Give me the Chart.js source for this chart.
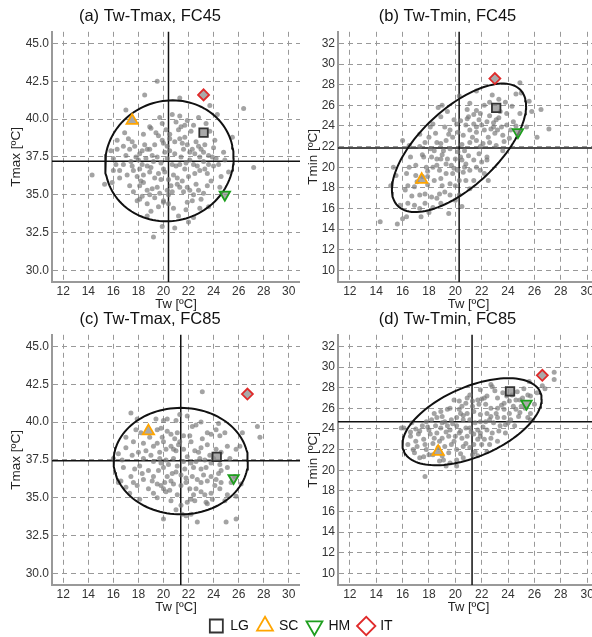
<!DOCTYPE html>
<html>
<head>
<meta charset="utf-8">
<script src="https://cdn.jsdelivr.net/npm/chart.js@4.4.0/dist/chart.umd.min.js"></script>
<style>
  body { margin: 0; background: #fff; overflow: hidden; }
  #wrap { position: relative; width: 592px; height: 637px; overflow: hidden; background: #fff; }
  canvas { position: absolute; }
</style>
</head>
<body>
<div id="wrap">
  <canvas id="chart_a" width="300" height="312" style="left:0px;top:0px"></canvas>
  <canvas id="chart_b" width="303" height="312" style="left:296px;top:0px"></canvas>
  <canvas id="chart_c" width="300" height="312" style="left:0px;top:303px"></canvas>
  <canvas id="chart_d" width="303" height="312" style="left:296px;top:303px"></canvas>
  <canvas id="chart_legend" width="584" height="30" style="left:9px;top:610px"></canvas>
</div>
<script>
// tick labels and axis limits
var twTicks = [12, 14, 16, 18, 20, 22, 24, 26, 28, 30]
var tmaxTicks = [30, 32.5, 35, 37.5, 40, 42.5, 45]
var tminTicks = [10, 12, 14, 16, 18, 20, 22, 24, 26, 28, 30, 32]
var twRange = [11.1, 30.9]
var tmaxRange = [29.23, 45.77]
var tminRange = [8.87, 33.13]

// gray points [Tw, T]
var pointsA = [[19.5,42.5],[18.5,41.6],[21.3,41.4],[23.7,40.9],[26.4,40.7],[17.0,40.6],[19.7,40.1],[18.9,39.5],[19.9,39.7],[19.0,39.4],
  [21.3,40.2],[21.4,39.5],[21.2,39.3],[21.9,39.9],[22.8,40.1],[22.4,39.6],[23.4,39.7],[24.3,40.3],[24.1,38.6],[25.5,38.8],
  [24.8,37.8],[23.6,37.6],[23.2,37.8],[23.9,37.5],[16.3,38.6],[17.2,38.7],[17.5,38.5],[16.8,38.2],[16.3,38.0],[17.7,38.2],
  [18.1,37.7],[18.3,37.9],[18.7,38.0],[18.9,38.0],[19.1,37.6],[19.5,37.5],[19.9,38.6],[20.0,38.4],[20.3,38.2],[20.5,37.9],
  [20.1,37.8],[20.5,39.0],[20.5,38.7],[20.9,38.5],[21.3,38.7],[21.7,38.8],[21.9,38.3],[21.6,38.0],[22.1,37.8],[22.5,37.7],
  [22.8,38.2],[22.9,37.5],[14.3,36.3],[15.3,35.7],[27.2,36.8],[16.0,37.4],[16.8,37.0],[17.5,36.9],[17.6,36.6],[18.0,37.3],
  [18.3,37.0],[18.1,36.7],[18.4,36.3],[18.7,36.9],[18.9,36.5],[19.2,37.2],[19.3,36.1],[20.0,36.7],[20.1,36.5],[20.7,37.0],
  [20.8,36.3],[21.1,36.1],[21.3,37.0],[21.7,36.7],[22.1,37.3],[22.4,37.0],[22.5,36.4],[22.9,36.6],[23.2,37.2],[23.3,36.7],
  [23.5,36.4],[24.0,36.9],[24.4,37.0],[16.5,36.1],[15.9,35.8],[17.3,35.6],[17.6,35.2],[18.1,35.6],[18.4,35.8],[18.7,35.3],
  [18.9,35.0],[19.5,35.5],[19.7,35.1],[20.0,34.6],[20.4,35.0],[20.7,35.2],[21.1,35.7],[21.3,35.5],[21.6,35.2],[21.9,35.5],
  [22.1,35.3],[22.4,35.0],[22.8,35.3],[23.2,35.1],[18.1,34.7],[18.7,34.4],[19.6,34.2],[20.0,34.5],[20.4,34.4],[21.9,34.5],
  [22.3,34.6],[22.4,33.5],[22.9,34.1],[19.9,32.9],[20.9,32.8],[19.2,32.2],[18.7,33.6],[19.6,38.9],[20.2,39.3],[21.0,39.8],
  [22.6,38.5],[23.0,38.0],[17.9,36.2],[18.6,37.4],[19.8,36.0],[21.4,37.5],[22.0,36.2],[23.8,35.9],[17.0,37.6],[16.5,36.6],
  [20.6,35.6],[21.8,34.0],[23.0,34.7],[19.3,34.8],[24.6,36.2],[15.8,37.9],[16.9,39.1],
  [17.3,38.0],[17.8,37.5],[18.5,38.3],[19.3,38.3],[19.8,37.1],[20.3,37.4],[20.9,37.7],[21.5,38.4],[22.3,38.0],[23.3,38.3],
  [23.7,39.2],[22.2,39.2],[21.7,39.6],[20.7,40.3],[19.4,39.1],[18.4,39.0],[17.4,37.2],[16.2,37.0],[17.1,36.3],[18.2,35.9],
  [19.0,36.8],[19.6,36.4],[20.4,36.0],[21.0,36.9],[21.8,37.1],[22.7,36.9],[23.6,37.0],[24.2,37.4],[24.9,37.3],[25.2,36.5],
  [24.5,35.5],[23.5,35.6],[22.6,35.7],[21.5,35.9],[20.3,35.3],[19.1,35.4],[18.3,34.9],[17.9,34.6],[19.0,33.9],[20.8,34.1],
  [21.2,33.6],[22.0,33.2],[23.6,34.2],[24.0,38.1],[16.0,36.6]]

var pointsB = [[24.9,28.2],[24.6,27.1],[22.8,27.0],[23.8,26.3],[21.1,26.2],[22.2,26.0],[21.6,25.5],[21.9,25.2],[21.4,25.1],[21.0,24.9],
  [22.6,25.0],[23.4,25.4],[23.9,25.2],[23.1,24.6],[23.5,23.9],[23.9,24.1],[22.4,24.4],[22.0,24.1],[21.4,24.2],[20.8,24.1],
  [21.1,23.6],[21.6,23.4],[22.2,23.6],[22.7,23.7],[23.0,23.3],[23.6,23.1],[24.1,22.8],[26.2,22.9],[27.1,23.7],[25.4,23.9],
  [18.7,25.8],[18.9,24.9],[18.3,24.2],[18.1,23.9],[19.2,23.9],[19.6,23.6],[20.1,24.2],[20.2,23.4],[20.6,23.1],[19.8,22.9],
  [19.3,22.6],[18.9,22.3],[18.6,22.4],[17.7,22.4],[17.3,22.0],[18.1,21.8],[18.4,21.6],[19.1,21.6],[19.6,21.8],[20.2,21.5],
  [20.7,21.6],[21.1,22.4],[21.6,22.6],[22.1,22.3],[22.6,22.4],[23.1,22.1],[23.6,21.6],[16.0,22.6],[16.5,22.1],[17.5,21.2],
  [18.2,21.0],[18.6,20.8],[18.9,20.8],[19.3,20.3],[19.7,20.2],[20.0,20.8],[20.5,20.7],[20.8,20.3],[21.4,20.7],[21.6,20.0],
  [22.0,20.5],[22.4,21.0],[21.1,19.7],[20.6,19.5],[20.2,19.7],[19.8,19.4],[19.3,19.4],[18.8,19.7],[18.3,20.0],[17.8,20.0],
  [17.0,20.2],[16.5,20.0],[15.3,20.0],[15.5,19.2],[16.3,19.4],[17.0,19.2],[17.5,19.1],[17.9,19.1],[18.4,18.7],[18.9,18.9],
  [19.6,18.4],[20.0,18.2],[20.3,18.7],[20.8,18.7],[21.4,18.7],[22.2,19.4],[22.5,18.7],[16.2,17.8],[16.4,18.2],[16.9,18.1],
  [17.3,17.3],[17.7,17.4],[18.2,17.1],[18.6,17.0],[18.8,17.4],[19.2,17.6],[19.6,17.3],[20.0,16.8],[20.3,17.3],[16.4,16.5],
  [16.9,16.3],[17.3,16.0],[17.7,16.5],[18.3,16.1],[18.9,16.5],[19.5,15.5],[14.3,14.7],[15.6,14.5],[16.0,15.0],[16.3,15.2],
  [17.4,15.2],[25.0,27.2],[19.0,21.2],[20.5,22.2],[21.8,21.3],[22.9,23.9],[19.9,24.6],[18.5,23.3],[17.6,21.0],[20.9,24.7],
  [23.3,24.8],[21.3,22.9],[22.4,20.7],[24.4,24.4],[23.7,22.5],[20.9,25.6],[19.4,25.4],
  [21.8,24.6],[22.6,26.3],[23.3,26.6],[24.3,25.9],[24.9,25.2],[24.6,24.0],[23.2,23.6],[22.5,22.9],[21.9,22.0],[21.0,21.1],
  [20.4,21.0],[19.4,20.8],[18.6,20.2],[17.9,19.6],[17.1,18.6],[16.7,17.2],[17.9,18.3],[19.0,18.2],[19.9,19.9],[20.7,20.0],
  [21.9,19.7],[21.1,17.9],[20.5,16.2],[18.0,15.6],[15.8,16.3],[15.1,18.2],[16.6,21.0],[17.3,23.2],[18.0,22.9],[19.5,23.2],
  [20.4,24.5],[21.6,23.9],[22.9,24.3],[24.2,23.6],[25.6,26.4],[25.8,25.4],[26.5,25.6],[19.0,26.0],[20.3,26.9],[21.6,27.4]]

var pointsC = [[23.1,42.0],[17.4,40.6],[17.9,40.2],[19.4,40.2],[20.0,40.1],[20.3,40.2],[21.0,40.1],[21.9,40.4],[23.0,40.0],[22.3,39.7],
  [17.8,39.5],[18.2,39.3],[19.5,39.5],[19.8,39.6],[20.3,39.4],[20.6,39.2],[21.1,39.3],[21.6,39.1],[22.1,39.1],[23.5,39.3],
  [23.8,39.2],[24.2,39.5],[24.5,39.1],[24.9,39.3],[26.1,38.4],[27.7,39.0],[27.5,39.7],[17.0,38.3],[17.6,38.7],[18.4,38.6],
  [19.2,38.4],[19.5,38.6],[20.0,38.7],[20.2,38.2],[20.6,38.4],[21.0,38.1],[21.2,38.5],[21.6,38.2],[22.2,38.7],[22.5,38.1],
  [23.0,38.3],[23.1,38.9],[23.5,38.5],[23.7,37.8],[24.2,38.2],[24.6,38.0],[25.1,38.4],[25.8,38.2],[16.0,37.6],[16.7,37.5],
  [17.5,37.8],[18.4,37.6],[19.0,37.8],[19.2,37.4],[19.8,37.3],[20.2,37.5],[20.4,37.2],[20.8,37.6],[21.1,37.1],[21.6,37.4],
  [22.2,37.3],[22.6,37.4],[23.0,36.9],[23.4,37.0],[23.8,37.3],[24.5,37.2],[24.6,36.8],[25.1,37.0],[17.4,36.4],[17.6,36.0],
  [18.3,36.6],[18.8,36.8],[19.2,36.4],[19.6,36.8],[20.0,37.0],[20.3,36.4],[20.6,36.1],[21.0,36.7],[21.4,36.5],[21.8,36.3],
  [22.3,36.4],[22.7,36.2],[23.0,36.0],[23.5,36.1],[23.8,36.4],[24.2,36.2],[24.6,36.0],[25.7,36.4],[16.4,36.0],[17.0,35.7],
  [17.9,35.8],[18.8,35.6],[19.5,35.9],[19.8,35.8],[20.2,35.4],[20.8,35.9],[21.4,35.8],[21.8,36.0],[22.1,35.6],[22.6,35.6],
  [23.0,35.4],[23.8,35.3],[24.5,35.6],[19.5,35.0],[20.6,34.8],[21.4,34.5],[21.9,34.7],[22.5,34.8],[23.5,34.6],[23.9,34.9],
  [25.1,35.2],[25.8,35.1],[21.5,33.9],[21.8,33.8],[22.7,33.4],[19.2,35.3],[25.8,33.6],[23.4,34.7],[18.1,37.1],[19.7,38.0],
  [20.9,38.9],[21.9,37.7],[22.9,37.6],[20.5,35.5],[22.4,35.2],[18.6,38.1],[24.0,37.6],[20.1,36.0],[20.0,33.6],[16.6,36.1],
  [17.0,39.0],[18.0,38.0],[18.9,39.0],[19.9,39.0],[20.8,38.2],[21.3,38.7],[22.8,38.0],[23.3,37.5],[24.4,36.6],[25.3,37.6],
  [25.4,36.0],[24.9,34.8],[23.3,35.2],[22.2,34.9],[21.1,35.2],[20.0,35.6],[19.1,36.1],[18.4,36.2],[17.7,36.9],[16.8,37.0],
  [16.4,37.9],[17.3,35.3],[18.1,34.9],[19.7,37.6],[20.7,36.6],[21.7,36.9],[22.4,37.0],[23.2,36.5],[24.1,35.8],[21.3,40.5],
  [22.6,39.8],[24.4,39.9],[26.3,39.3],[26.2,35.9],[25.0,33.4],[21.0,34.2],[22.2,33.9]]

var pointsD = [[27.5,29.5],[27.5,28.8],[26.6,28.2],[25.6,28.6],[25.2,27.9],[22.7,28.3],[22.8,28.1],[21.9,27.8],[23.6,27.5],[23.9,27.2],
  [24.3,27.3],[24.7,27.6],[25.5,27.3],[25.7,27.2],[26.2,27.5],[21.1,27.3],[20.9,27.0],[21.7,26.8],[22.2,27.0],[22.4,27.2],
  [23.2,27.0],[23.7,26.5],[24.1,26.7],[24.6,26.8],[25.1,27.0],[19.9,26.8],[20.3,26.7],[20.5,26.2],[20.8,26.5],[21.3,26.2],
  [21.8,26.4],[22.3,26.4],[22.7,26.0],[23.2,26.0],[23.7,25.9],[24.1,25.5],[24.6,25.9],[25.0,26.2],[25.7,25.5],[24.8,25.2],
  [18.9,25.7],[19.4,25.9],[19.6,26.0],[20.3,25.9],[20.4,25.5],[20.9,25.5],[21.4,25.7],[21.9,25.4],[22.4,25.5],[22.7,25.2],
  [23.2,25.1],[23.7,25.1],[24.2,24.9],[25.5,25.1],[25.7,24.9],[17.8,24.7],[18.2,24.9],[18.6,25.1],[19.0,25.2],[19.2,24.7],
  [19.7,24.9],[20.1,25.1],[20.6,24.9],[21.1,24.9],[21.5,24.6],[21.9,24.7],[22.3,24.7],[22.9,24.6],[23.4,24.3],[23.8,24.4],
  [24.5,24.3],[16.1,24.1],[16.7,24.6],[17.5,24.3],[17.3,23.8],[18.0,23.9],[18.5,24.3],[18.9,24.1],[19.4,24.3],[19.6,23.9],
  [20.1,24.3],[20.4,23.8],[20.8,24.1],[21.1,24.1],[21.7,23.9],[21.9,23.6],[22.4,23.9],[22.8,23.6],[23.3,23.8],[23.8,23.6],
  [16.6,23.3],[17.2,23.5],[17.6,23.0],[18.1,23.5],[18.6,23.6],[19.0,23.1],[19.5,23.3],[20.0,23.3],[20.5,23.1],[20.9,23.3],
  [21.4,23.5],[21.7,23.0],[22.2,23.0],[22.7,23.1],[23.2,22.8],[16.4,22.5],[17.1,22.3],[17.7,22.5],[17.8,22.0],[18.3,22.6],
  [18.7,22.2],[19.2,22.3],[19.7,22.5],[20.1,22.0],[20.6,22.3],[21.1,22.2],[21.4,22.5],[22.0,22.5],[16.9,21.7],[17.3,21.2],
  [18.0,21.5],[18.3,21.5],[19.0,21.4],[19.5,21.7],[20.1,21.0],[20.6,21.2],[21.3,21.5],[21.7,21.4],[19.6,20.7],[20.1,20.4],
  [19.1,21.0],[17.7,19.4],[15.9,24.1],
  [17.0,24.0],[17.9,24.2],[18.4,23.1],[19.3,23.7],[20.3,23.6],[21.2,23.7],[22.1,24.2],[22.6,24.9],[23.1,25.5],[23.5,26.3],
  [24.4,26.2],[24.9,26.8],[25.3,26.0],[26.0,26.4],[26.8,27.9],[23.0,27.7],[22.0,26.9],[21.3,26.7],[20.6,25.3],[19.8,24.5],
  [19.0,24.6],[18.4,25.5],[17.0,22.8],[16.8,22.0],[18.8,22.8],[19.9,22.8],[20.8,22.6],[21.9,23.3],[22.6,22.5],[21.5,21.8],
  [20.4,21.6],[19.3,20.4],[18.8,20.9],[17.6,21.3],[16.6,23.7],[24.0,24.6],[24.9,25.6],[22.4,21.8]]

// highlighted cities, order LG, SC, HM, IT: [Tw, T]
var markerNames = ['LG', 'SC', 'HM', 'IT']
var markersA = [[23.2,39.1],[17.5,39.9],[24.9,35.0],[23.2,41.6]]
var markersB = [[23.1,25.75],[17.45,18.8],[24.75,23.4],[23.0,28.6]]
var markersC = [[24.25,37.7],[18.8,39.4],[25.6,36.3],[26.7,41.85]]
var markersD = [[24.15,27.65],[18.7,21.8],[25.4,26.45],[26.6,29.2]]

// means (crosshair) [Tw, T]
var meansA = [20.4, 37.21]
var meansB = [20.29, 21.86]
var meansC = [21.38, 37.45]
var meansD = [21.27, 24.71]

// ellipse: [centre Tw, centre T, half-range Tw, half-range T, correlation]
var ellipseA = [20.47, 37.24, 5.13, 4.0, 0.05]
var ellipseB = [20.28, 21.88, 5.09, 6.23, 0.65]
var ellipseC = [21.38, 37.42, 5.36, 3.52, 0.0]
var ellipseD = [21.27, 24.7, 5.28, 4.22, 0.52]

// styles
var FONT = "'Liberation Sans', Arial, Helvetica, sans-serif"
var markerColors = ['#333333', '#ffa500', '#1e9e1e', '#e02a2a']
var markerStyles = ['rect', 'triangle', 'triangle', 'rectRot']
var markerRotation = [0, 0, 180, 0]
var markerRadius = [6, 6.5, 6, 5.5]

Chart.defaults.font.family = FONT

function ellipse_points(e) {
  // outline of the ellipse from its centre, spreads and correlation
  var pts = []
  var n = 120
  var s = Math.sqrt(1 - e[4] * e[4])
  for (var i = 0; i <= n; i++) {
    var t = 2 * Math.PI * i / n
    pts.push({x: e[0] + e[2] * Math.cos(t), y: e[1] + e[3] * (e[4] * Math.cos(t) + s * Math.sin(t))})
  }
  return pts
}

var crossPlugin = {
  id: 'cross',
  beforeDatasetsDraw: function(chart, args, opts) {
    var ctx = chart.ctx, a = chart.chartArea
    var px = chart.scales.x.getPixelForValue(opts.mean[0])
    var py = chart.scales.y.getPixelForValue(opts.mean[1])
    ctx.save()
    ctx.strokeStyle = '#111'
    ctx.lineWidth = 1.5
    ctx.beginPath()
    ctx.moveTo(px, a.top); ctx.lineTo(px, a.bottom)
    ctx.moveTo(a.left, py); ctx.lineTo(a.right, py)
    ctx.stroke()
    ctx.restore()
  }
}

function make_panel(id, title, yTitle, points, markers, mean, ell, yRange, yTicks, yDec, yWidth, yTitlePad) {
  var datasets = []
  markerNames.forEach(function(n, i) {
    datasets.push({
      label: n,
      data: [{x: markers[i][0], y: markers[i][1]}],
      pointStyle: markerStyles[i],
      pointRotation: markerRotation[i],
      pointRadius: markerRadius[i],
      borderColor: markerColors[i],
      backgroundColor: 'rgba(140,140,140,0.75)',
      borderWidth: 1.8
    })
  })
  datasets.push({
    label: 'ellipse',
    data: ellipse_points(ell),
    showLine: true,
    pointRadius: 0,
    borderColor: '#111',
    borderWidth: 2,
    fill: false
  })
  datasets.push({
    label: 'years',
    data: points.map(function(p) { return {x: p[0], y: p[1]} }),
    pointRadius: 2.5,
    borderWidth: 0,
    backgroundColor: 'rgba(120,120,120,0.68)'
  })

  return new Chart(document.getElementById(id), {
    type: 'scatter',
    data: {datasets: datasets},
    plugins: [crossPlugin],
    options: {
      responsive: false,
      animation: false,
      events: [],
      layout: {padding: 0, autoPadding: false},
      plugins: {
        legend: {display: false},
        tooltip: {enabled: false},
        title: {display: true, text: title, color: '#111', font: {size: 16.5, weight: 'normal'}, padding: {top: 7, bottom: 5}},
        cross: {mean: mean}
      },
      scales: {
        x: {
          type: 'linear', min: twRange[0], max: twRange[1],
          afterBuildTicks: function(s) { s.ticks = twTicks.map(function(v) { return {value: v} }) },
          afterFit: function(s) { s.height = 30 },
          ticks: {color: '#333', font: {size: 12}, padding: 2, autoSkip: false, maxRotation: 0,
                  callback: function(v) { return v }},
          grid: {color: '#999', lineWidth: 1, drawTicks: false},
          border: {display: true, color: '#999', width: 2, dash: [5, 4]},
          title: {display: true, text: 'Tw [ºC]', color: '#222', font: {size: 13}, padding: 0}
        },
        y: {
          type: 'linear', min: yRange[0], max: yRange[1],
          afterBuildTicks: function(s) { s.ticks = yTicks.map(function(v) { return {value: v} }) },
          afterFit: function(s) { s.width = yWidth },
          ticks: {color: '#333', font: {size: 12}, padding: 3, autoSkip: false,
                  callback: function(v) { return v.toFixed(yDec) }},
          grid: {color: '#999', lineWidth: 1, drawTicks: false},
          border: {display: true, color: '#999', width: 2, dash: [5, 4]},
          title: {display: true, text: yTitle, color: '#222', font: {size: 13.5}, padding: {top: yTitlePad, bottom: 0}}
        }
      }
    }
  })
}

make_panel('chart_a', '(a) Tw-Tmax, FC45', 'Tmax [ºC]', pointsA, markersA, meansA, ellipseA, tmaxRange, tmaxTicks, 1, 52, 8)
make_panel('chart_b', '(b) Tw-Tmin, FC45', 'Tmin [ºC]', pointsB, markersB, meansB, ellipseB, tminRange, tminTicks, 0, 42, 9)
make_panel('chart_c', '(c) Tw-Tmax, FC85', 'Tmax [ºC]', pointsC, markersC, meansC, ellipseC, tmaxRange, tmaxTicks, 1, 52, 8)
make_panel('chart_d', '(d) Tw-Tmin, FC85', 'Tmin [ºC]', pointsD, markersD, meansD, ellipseD, tminRange, tminTicks, 0, 42, 9)

// shared legend
new Chart(document.getElementById('chart_legend'), {
  type: 'scatter',
  data: {
    datasets: markerNames.map(function(n, i) {
      return {
        label: n, data: [],
        pointStyle: markerStyles[i], pointRotation: markerRotation[i],
        borderColor: markerColors[i], backgroundColor: 'rgba(255,255,255,0)', borderWidth: 1.8
      }
    })
  },
  options: {
    responsive: false,
    animation: false,
    events: [],
    layout: {autoPadding: false},
    scales: {x: {display: false}, y: {display: false}},
    plugins: {
      tooltip: {enabled: false},
      legend: {
        display: true, position: 'top', maxHeight: 60,
        labels: {usePointStyle: true, boxHeight: 13, padding: 9, color: '#111', font: {size: 14}}
      }
    }
  }
})
</script>
</body>
</html>
